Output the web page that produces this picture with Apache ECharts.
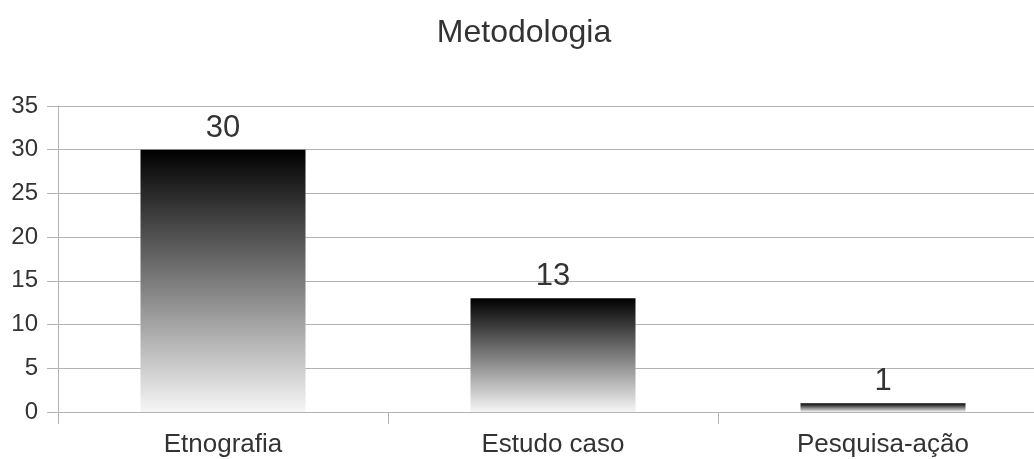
<!DOCTYPE html>
<html>
<head>
<meta charset="utf-8">
<script src="https://cdn.jsdelivr.net/npm/echarts@6/dist/echarts.min.js"></script>
<style>
  html, body { margin: 0; padding: 0; background: #fff; overflow: hidden; }
  /* the plot runs slightly past the right edge of the window */
  #chart { width: 1048px; height: 459px; }
</style>
</head>
<body>
<div id="chart"></div>
<script>
// Methodologies and how many studies used each one
const categories = ['Etnografia', 'Estudo caso', 'Pesquisa-ação'];
const counts = [30, 13, 1];
const chartTitle = 'Metodologia';

const font = '"Liberation Sans", Arial, sans-serif';
const lineColor = '#b3b3b3';
const textColor = '#333333';

const chart = echarts.init(document.getElementById('chart'), null, { renderer: 'canvas' });

chart.setOption({
  backgroundColor: '#ffffff',
  animation: false,
  title: {
    text: chartTitle,
    left: 'center',
    top: 12,
    textStyle: { fontFamily: font, fontSize: 32, fontWeight: 'normal', color: textColor }
  },
  grid: {
    left: 58,
    right: 0,
    top: 106,
    bottom: 47,
    containLabel: false
  },
  xAxis: {
    type: 'category',
    data: categories,
    boundaryGap: true,
    axisLine: { show: true, lineStyle: { color: lineColor, width: 1 } },
    axisTick: { show: true, length: 12, alignWithLabel: false, lineStyle: { color: lineColor } },
    axisLabel: { fontFamily: font, fontSize: 26, color: textColor, margin: 20 },
    splitLine: { show: false }
  },
  yAxis: {
    type: 'value',
    min: 0,
    max: 35,
    interval: 5,
    axisLine: { show: true, lineStyle: { color: lineColor, width: 1 } },
    axisTick: { show: true, length: 11, lineStyle: { color: lineColor } },
    axisLabel: { fontFamily: font, fontSize: 24, color: textColor, margin: 20 },
    splitLine: { show: true, lineStyle: { color: lineColor, width: 1 } }
  },
  series: [{
    type: 'bar',
    data: counts,
    barWidth: '50%',
    itemStyle: {
      color: new echarts.graphic.LinearGradient(0, 0, 0, 1, [
        { offset: 0, color: '#000000' },
        { offset: 1, color: '#f6f6f6' }
      ])
    },
    label: {
      show: true,
      position: 'top',
      distance: 6,
      fontFamily: font,
      fontSize: 31,
      color: textColor
    }
  }]
});
</script>
</body>
</html>
